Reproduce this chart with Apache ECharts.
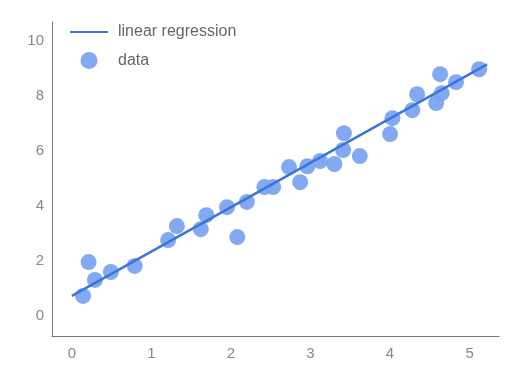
<!DOCTYPE html>
<html>
<head>
<meta charset="utf-8">
<script src="https://cdn.jsdelivr.net/npm/echarts@6/dist/echarts.min.js"></script>
<style>html,body{margin:0;padding:0;background:#fff}#c{width:524px;height:372px}</style>
</head>
<body>
<div id="c"></div>
<script>
const xTicks = [0, 1, 2, 3, 4, 5];
const yTicks = [0, 2, 4, 6, 8, 10];
const dataX = [0.14, 0.21, 0.29, 0.49, 0.79, 1.21, 1.32, 1.62, 1.69, 1.95, 2.08, 2.2, 2.42, 2.53, 2.73, 2.87, 2.96, 3.12, 3.3, 3.41, 3.42, 3.62, 4.0, 4.03, 4.28, 4.34, 4.58, 4.63, 4.65, 4.83, 5.12];
const dataY = [0.73, 1.96, 1.31, 1.6, 1.82, 2.76, 3.27, 3.16, 3.67, 3.96, 2.87, 4.15, 4.69, 4.69, 5.42, 4.87, 5.45, 5.64, 5.53, 6.04, 6.65, 5.82, 6.62, 7.2, 7.49, 8.07, 7.75, 8.8, 8.11, 8.51, 8.98];
const lineX = [0, 5.22];
const lineY = [0.73, 9.16];

const font = 'Liberation Sans';
const chart = echarts.init(document.getElementById('c'), null, {renderer: 'canvas'});
chart.setOption({
  animation: false,
  textStyle: {fontFamily: font},
  grid: {left: 52, right: 25, top: 22, bottom: 36, containLabel: false},
  legend: {
    left: 65, top: 19, orient: 'vertical', itemGap: 12,
    itemWidth: 38, itemHeight: 17,
    textStyle: {color: '#666', fontSize: 16, fontFamily: font, padding: [0, 0, 0, 5]},
    data: [
      {name: 'linear regression', icon: 'path://M0,7.5 L38,7.5 L38,9.5 L0,9.5 Z'},
      {name: 'data', icon: 'circle'}
    ]
  },
  xAxis: {
    type: 'value', min: -0.25, max: 5.37,
    splitLine: {show: false},
    axisTick: {show: false},
    axisLine: {show: true, onZero: false, lineStyle: {color: '#777', width: 1}},
    axisLabel: {customValues: xTicks, color: '#888', fontSize: 15, margin: 10, fontFamily: font}
  },
  yAxis: {
    type: 'value', min: -0.73, max: 10.7,
    splitLine: {show: false},
    axisTick: {show: false},
    axisLine: {show: true, onZero: false, lineStyle: {color: '#777', width: 1}},
    axisLabel: {customValues: yTicks, color: '#888', fontSize: 15, margin: 8, fontFamily: font}
  },
  series: [
    {
      name: 'data', type: 'scatter', symbolSize: 16,
      itemStyle: {color: '#7BA4F1', opacity: 0.95},
      data: dataX.map((x, i) => [x, dataY[i]]),
      z: 2
    },
    {
      name: 'linear regression', type: 'line', showSymbol: false, symbol: 'none',
      lineStyle: {color: '#3A76D8', width: 2.5},
      itemStyle: {color: '#3A76D8'},
      data: lineX.map((x, i) => [x, lineY[i]]),
      z: 3
    }
  ]
});
</script>
</body>
</html>
